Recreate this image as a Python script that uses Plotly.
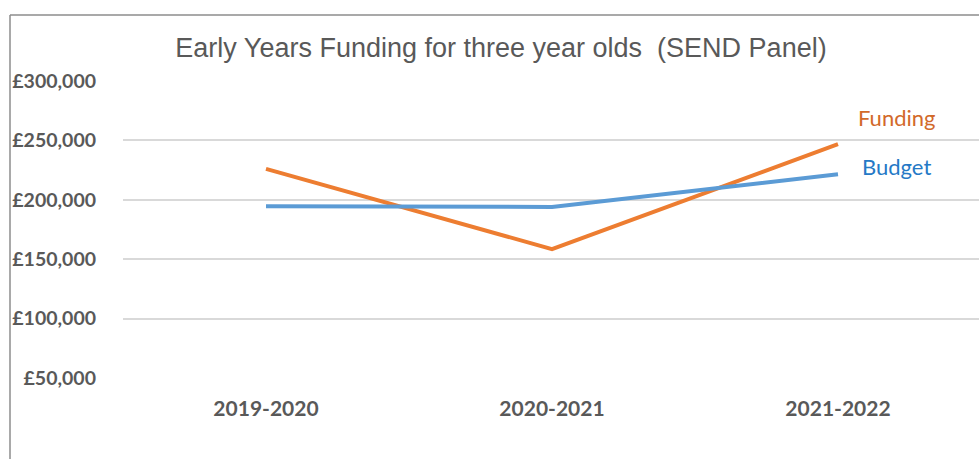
import plotly.graph_objects as go

# Data
years = ["2019-2020", "2020-2021", "2021-2022"]
funding = [226000, 158500, 246800]
budget = [194500, 194000, 221500]
y_ticks = [50000, 100000, 150000, 200000, 250000, 300000]
y_tick_text = [f"£{v:,}" for v in y_ticks]

W, H = 979, 459
L, R, T, B = 123, 0, 81, 81
plot_w = W - L - R
plot_h = H - T - B
cat_w = 286.0  # pixel width of one category slot

def px_x(p):
    return (p - L) / plot_w

def px_y(p):
    return (H - B - p) / plot_h

ORANGE = "#ED7D31"
BLUE = "#5B9BD5"
GREY = "#595959"

fig = go.Figure()
fig.add_trace(go.Scatter(x=years, y=funding, mode="lines", name="Funding",
                         line=dict(color=ORANGE, width=4), showlegend=False))
fig.add_trace(go.Scatter(x=years, y=budget, mode="lines", name="Budget",
                         line=dict(color=BLUE, width=4), showlegend=False))

fig.update_layout(
    width=W, height=H,
    margin=dict(l=L, r=R, t=T, b=B),
    paper_bgcolor="white", plot_bgcolor="white",
    title=dict(text="Early Years Funding for three year olds  (SEND Panel)",
               x=501 / W, xanchor="center", y=1 - 48 / H, yanchor="middle",
               font=dict(family="Liberation Sans, Arial", size=27, color=GREY)),
    xaxis=dict(range=[-0.5, -0.5 + plot_w / cat_w], showgrid=False, zeroline=False,
               showline=False, ticks="", ticklabelstandoff=16,
               tickfont=dict(family="Lato, Open Sans", size=21, color=GREY, weight="bold")),
    yaxis=dict(range=[50000, 300000], tickvals=y_ticks, ticktext=y_tick_text,
               showgrid=True, gridcolor="#D9D9D9", gridwidth=1.5, zeroline=False,
               showline=False, ticks="", ticklabelstandoff=26,
               tickfont=dict(family="Lato, Open Sans", size=19.5, color=GREY, weight="bold")),
)

# Series labels at the line ends
fig.add_annotation(x=px_x(896), y=px_y(117), xref="paper", yref="paper", text="Funding",
                   xanchor="center", yanchor="middle", showarrow=False,
                   font=dict(family="Lato, Open Sans", size=22, color="#D2692A"))
fig.add_annotation(x=px_x(896), y=px_y(166), xref="paper", yref="paper", text="Budget",
                   xanchor="center", yanchor="middle", showarrow=False,
                   font=dict(family="Lato, Open Sans", size=22, color="#2579C6"))

# Chart frame (left and top edges)
frame = dict(type="line", xref="paper", yref="paper", line=dict(color="#8C8C8C", width=1.5))
fig.add_shape(x0=px_x(10), x1=px_x(10), y0=px_y(15), y1=px_y(H + 5), **frame)
fig.add_shape(x0=px_x(10), x1=px_x(W + 5), y0=px_y(15), y1=px_y(15), **frame)

fig.write_html("out.html")
